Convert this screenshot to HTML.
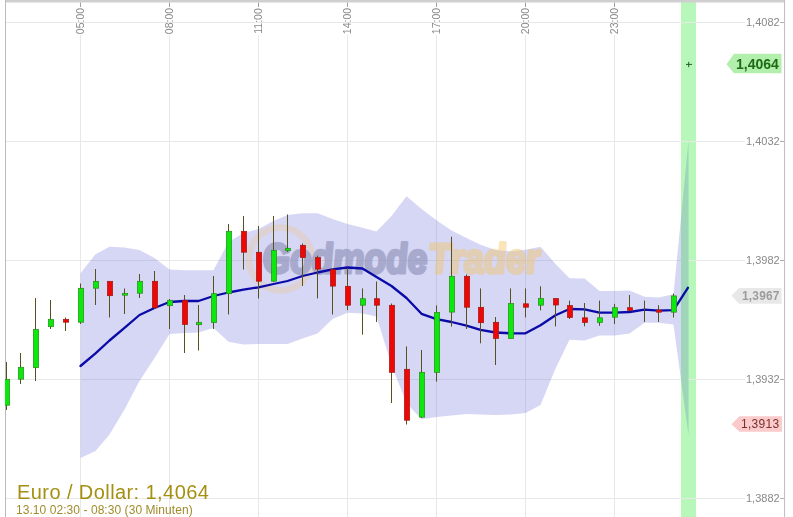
<!DOCTYPE html>
<html><head><meta charset="utf-8"><title>Euro / Dollar</title>
<style>
html,body{margin:0;padding:0;background:#fff;}
body{width:793px;height:517px;overflow:hidden;position:relative;font-family:"Liberation Sans",sans-serif;}
.ax{will-change:transform;position:absolute;right:13.2px;padding-left:1px;background:#fff;text-align:right;font-size:11px;line-height:12px;color:#888;white-space:nowrap;}
.tm{position:absolute;top:7px;width:10px;height:28px;will-change:transform;}
.tm span{position:absolute;left:50%;top:50%;transform:translate(-50%,-50%) rotate(-90deg);font-size:10.5px;line-height:10px;color:#8a8a8a;white-space:nowrap;display:block;}
.tag{will-change:transform;position:absolute;white-space:nowrap;text-align:right;}
#title{will-change:transform;position:absolute;left:17px;top:480.5px;font-size:20px;line-height:22px;color:#a58f12;white-space:nowrap;letter-spacing:0.42px;}
#sub{will-change:transform;position:absolute;left:16.3px;top:502.5px;letter-spacing:0.06px;font-size:12px;line-height:14px;color:#a08c2a;white-space:nowrap;}
</style></head><body>
<svg width="793" height="517" viewBox="0 0 793 517" style="position:absolute;left:0;top:0">
<rect x="0" y="0" width="793" height="517" fill="#fff"/>
<rect x="681" y="0" width="15" height="517" fill="#b7f7ba"/>
<rect x="6" y="22" width="778" height="1" fill="#e8e8e8"/>
<rect x="6" y="141" width="778" height="1" fill="#e8e8e8"/>
<rect x="6" y="260" width="778" height="1" fill="#e8e8e8"/>
<rect x="6" y="379" width="778" height="1" fill="#e8e8e8"/>
<rect x="6" y="498" width="778" height="1" fill="#e8e8e8"/>
<rect x="80" y="35" width="1" height="482" fill="#e8e8e8"/>
<rect x="169" y="35" width="1" height="482" fill="#e8e8e8"/>
<rect x="258" y="35" width="1" height="482" fill="#e8e8e8"/>
<rect x="347" y="35" width="1" height="482" fill="#e8e8e8"/>
<rect x="436" y="35" width="1" height="482" fill="#e8e8e8"/>
<rect x="525" y="35" width="1" height="482" fill="#e8e8e8"/>
<rect x="614" y="35" width="1" height="482" fill="#e8e8e8"/>
<rect x="5" y="0" width="780" height="2.5" fill="#cfcfcf"/>
<rect x="5" y="0" width="1" height="517" fill="#bbbbbb"/>
<rect x="784" y="0" width="1.1" height="517" fill="#c2c2c2"/>
<defs><clipPath id="cl"><rect x="0" y="0" width="681" height="517"/></clipPath><clipPath id="cr"><rect x="681" y="0" width="20" height="517"/></clipPath></defs>
<polygon clip-path="url(#cl)" points="80.5,273.2 95.5,254.3 109.5,246.7 124.5,247.5 139.5,250.0 154.5,258.0 169.5,269.4 184.5,270.2 198.5,270.2 213.5,270.2 228.5,242.0 243.5,233.0 258.5,229.0 273.5,221.0 287.5,215.0 302.5,213.2 317.5,213.2 332.5,219.0 347.5,224.0 362.5,227.8 376.5,231.6 391.5,216.0 406.5,196.3 421.5,209.0 436.5,220.3 451.5,230.4 466.5,238.0 480.5,244.7 495.5,250.0 510.5,251.4 525.5,249.7 540.5,246.8 555.5,264.0 569.5,278.3 584.5,278.6 599.5,291.0 614.5,291.0 629.5,290.5 644.5,296.8 658.5,297.6 673.5,294.3 688.5,141.0 688.5,435.0 673.5,324.6 658.5,322.8 644.5,322.8 629.5,333.4 614.5,335.4 599.5,335.4 584.5,340.5 569.5,339.7 555.5,368.5 540.5,405.0 525.5,413.0 510.5,414.5 495.5,415.0 480.5,414.5 466.5,414.0 451.5,415.5 436.5,417.0 421.5,419.3 406.5,403.0 391.5,365.0 376.5,316.5 362.5,313.5 347.5,312.7 332.5,319.0 317.5,333.4 302.5,338.5 287.5,344.0 273.5,344.0 258.5,344.0 243.5,344.5 228.5,341.7 213.5,328.0 198.5,332.5 184.5,333.0 169.5,334.0 154.5,358.0 139.5,381.0 124.5,409.5 109.5,434.6 95.5,451.0 80.5,458.0" fill="rgba(92,92,214,0.25)"/>
<polygon clip-path="url(#cr)" points="80.5,273.2 95.5,254.3 109.5,246.7 124.5,247.5 139.5,250.0 154.5,258.0 169.5,269.4 184.5,270.2 198.5,270.2 213.5,270.2 228.5,242.0 243.5,233.0 258.5,229.0 273.5,221.0 287.5,215.0 302.5,213.2 317.5,213.2 332.5,219.0 347.5,224.0 362.5,227.8 376.5,231.6 391.5,216.0 406.5,196.3 421.5,209.0 436.5,220.3 451.5,230.4 466.5,238.0 480.5,244.7 495.5,250.0 510.5,251.4 525.5,249.7 540.5,246.8 555.5,264.0 569.5,278.3 584.5,278.6 599.5,291.0 614.5,291.0 629.5,290.5 644.5,296.8 658.5,297.6 673.5,294.3 688.5,141.0 688.5,435.0 673.5,324.6 658.5,322.8 644.5,322.8 629.5,333.4 614.5,335.4 599.5,335.4 584.5,340.5 569.5,339.7 555.5,368.5 540.5,405.0 525.5,413.0 510.5,414.5 495.5,415.0 480.5,414.5 466.5,414.0 451.5,415.5 436.5,417.0 421.5,419.3 406.5,403.0 391.5,365.0 376.5,316.5 362.5,313.5 347.5,312.7 332.5,319.0 317.5,333.4 302.5,338.5 287.5,344.0 273.5,344.0 258.5,344.0 243.5,344.5 228.5,341.7 213.5,328.0 198.5,332.5 184.5,333.0 169.5,334.0 154.5,358.0 139.5,381.0 124.5,409.5 109.5,434.6 95.5,451.0 80.5,458.0" fill="#9fd6ba"/>
<g opacity="0.6">
<circle cx="280.5" cy="259" r="31.5" fill="none" stroke="#f0c88a" stroke-width="6.5" opacity="0.5"/>
<g font-family="Liberation Sans, sans-serif" font-weight="bold" font-style="italic" font-size="42">
<text transform="translate(263.5,272.6) scale(0.84,1) skewX(5)" x="0" y="0" fill="#8a8eb4" stroke="#8a8eb4" stroke-width="3.2" stroke-linejoin="round">Godmode</text>
<text transform="translate(430,272.6) scale(0.855,1) skewX(5)" opacity="0.72" x="0" y="0" fill="#f4c562" stroke="#f4c562" stroke-width="3.2" stroke-linejoin="round">Trader</text>
</g></g>
<polyline points="80.5,366.0 95.5,353.3 109.5,340.5 124.5,327.8 139.5,315.0 154.5,308.0 169.5,302.0 184.5,301.0 198.5,301.0 213.5,296.0 228.5,292.5 243.5,289.6 258.5,287.3 273.5,284.0 287.5,281.0 302.5,276.0 317.5,272.5 332.5,269.4 347.5,267.5 362.5,268.5 376.5,277.0 391.5,286.0 406.5,298.0 421.5,313.8 436.5,319.2 451.5,322.0 466.5,325.7 480.5,329.8 495.5,332.5 510.5,333.3 525.5,333.3 540.5,325.3 555.5,315.3 569.5,309.0 584.5,309.4 599.5,312.7 614.5,312.7 629.5,312.0 644.5,309.7 658.5,310.7 673.5,310.2 687.9,287.8" fill="none" stroke="#0a0aa8" stroke-width="2.3" stroke-linejoin="round" stroke-linecap="round"/>
<rect x="6" y="362.0" width="1" height="48.0" fill="#57501f"/>
<rect x="4.35" y="379.3" width="5.3" height="25.9" fill="#0be80b" stroke="#2d8a1a" stroke-width="0.7"/>
<rect x="20" y="353.0" width="1" height="31.0" fill="#57501f"/>
<rect x="18.35" y="367.3" width="5.3" height="11.9" fill="#0be80b" stroke="#2d8a1a" stroke-width="0.7"/>
<rect x="35" y="298.0" width="1" height="83.0" fill="#57501f"/>
<rect x="33.35" y="329.3" width="5.3" height="38.4" fill="#0be80b" stroke="#2d8a1a" stroke-width="0.7"/>
<rect x="50" y="300.0" width="1" height="29.0" fill="#57501f"/>
<rect x="48.35" y="319.3" width="5.3" height="7.4" fill="#0be80b" stroke="#2d8a1a" stroke-width="0.7"/>
<rect x="65" y="317.5" width="1" height="13.5" fill="#57501f"/>
<rect x="63.35" y="319.3" width="5.3" height="2.9" fill="#ee0707" stroke="#a01a10" stroke-width="0.7"/>
<rect x="80" y="283.5" width="1" height="40.5" fill="#57501f"/>
<rect x="78.35" y="288.3" width="5.3" height="33.9" fill="#0be80b" stroke="#2d8a1a" stroke-width="0.7"/>
<rect x="95" y="269.0" width="1" height="36.0" fill="#57501f"/>
<rect x="93.35" y="281.3" width="5.3" height="6.9" fill="#0be80b" stroke="#2d8a1a" stroke-width="0.7"/>
<rect x="109" y="281.0" width="1" height="36.5" fill="#57501f"/>
<rect x="107.35" y="281.3" width="5.3" height="14.4" fill="#ee0707" stroke="#a01a10" stroke-width="0.7"/>
<rect x="124" y="288.5" width="1" height="25.5" fill="#57501f"/>
<rect x="122.35" y="293.3" width="5.3" height="1.9" fill="#0be80b" stroke="#2d8a1a" stroke-width="0.7"/>
<rect x="139" y="274.0" width="1" height="24.0" fill="#57501f"/>
<rect x="137.35" y="281.3" width="5.3" height="11.9" fill="#0be80b" stroke="#2d8a1a" stroke-width="0.7"/>
<rect x="154" y="271.0" width="1" height="38.0" fill="#57501f"/>
<rect x="152.35" y="281.3" width="5.3" height="26.4" fill="#ee0707" stroke="#a01a10" stroke-width="0.7"/>
<rect x="169" y="299.0" width="1" height="30.0" fill="#57501f"/>
<rect x="167.35" y="300.3" width="5.3" height="5.4" fill="#0be80b" stroke="#2d8a1a" stroke-width="0.7"/>
<rect x="184" y="295.0" width="1" height="58.0" fill="#57501f"/>
<rect x="182.35" y="300.3" width="5.3" height="24.1" fill="#ee0707" stroke="#a01a10" stroke-width="0.7"/>
<rect x="198" y="305.0" width="1" height="45.5" fill="#57501f"/>
<rect x="196.35" y="322.3" width="5.3" height="2.4" fill="#0be80b" stroke="#2d8a1a" stroke-width="0.7"/>
<rect x="213" y="276.0" width="1" height="53.0" fill="#57501f"/>
<rect x="211.35" y="293.7" width="5.3" height="28.8" fill="#0be80b" stroke="#2d8a1a" stroke-width="0.7"/>
<rect x="228" y="224.0" width="1" height="90.5" fill="#57501f"/>
<rect x="226.35" y="231.3" width="5.3" height="62.4" fill="#0be80b" stroke="#2d8a1a" stroke-width="0.7"/>
<rect x="243" y="216.0" width="1" height="53.5" fill="#57501f"/>
<rect x="241.35" y="231.3" width="5.3" height="20.9" fill="#ee0707" stroke="#a01a10" stroke-width="0.7"/>
<rect x="258" y="226.0" width="1" height="72.5" fill="#57501f"/>
<rect x="256.35" y="252.3" width="5.3" height="28.9" fill="#ee0707" stroke="#a01a10" stroke-width="0.7"/>
<rect x="273" y="216.0" width="1" height="66.0" fill="#57501f"/>
<rect x="271.35" y="250.3" width="5.3" height="30.9" fill="#0be80b" stroke="#2d8a1a" stroke-width="0.7"/>
<rect x="287" y="214.5" width="1" height="37.5" fill="#57501f"/>
<rect x="285.35" y="248.3" width="5.3" height="2.4" fill="#0be80b" stroke="#2d8a1a" stroke-width="0.7"/>
<rect x="302" y="243.5" width="1" height="42.5" fill="#57501f"/>
<rect x="300.35" y="245.3" width="5.3" height="12.2" fill="#ee0707" stroke="#a01a10" stroke-width="0.7"/>
<rect x="317" y="255.6" width="1" height="42.8" fill="#57501f"/>
<rect x="315.35" y="257.6" width="5.3" height="11.5" fill="#ee0707" stroke="#a01a10" stroke-width="0.7"/>
<rect x="332" y="268.0" width="1" height="46.5" fill="#57501f"/>
<rect x="330.35" y="269.7" width="5.3" height="16.4" fill="#ee0707" stroke="#a01a10" stroke-width="0.7"/>
<rect x="347" y="268.0" width="1" height="42.0" fill="#57501f"/>
<rect x="345.35" y="286.3" width="5.3" height="18.9" fill="#ee0707" stroke="#a01a10" stroke-width="0.7"/>
<rect x="362" y="288.4" width="1" height="46.2" fill="#57501f"/>
<rect x="360.35" y="298.7" width="5.3" height="6.5" fill="#0be80b" stroke="#2d8a1a" stroke-width="0.7"/>
<rect x="376" y="281.5" width="1" height="40.5" fill="#57501f"/>
<rect x="374.35" y="298.7" width="5.3" height="6.5" fill="#ee0707" stroke="#a01a10" stroke-width="0.7"/>
<rect x="391" y="303.5" width="1" height="99.5" fill="#57501f"/>
<rect x="389.35" y="305.3" width="5.3" height="67.1" fill="#ee0707" stroke="#a01a10" stroke-width="0.7"/>
<rect x="406" y="346.4" width="1" height="78.1" fill="#57501f"/>
<rect x="404.35" y="369.3" width="5.3" height="50.9" fill="#ee0707" stroke="#a01a10" stroke-width="0.7"/>
<rect x="421" y="350.0" width="1" height="68.0" fill="#57501f"/>
<rect x="419.35" y="372.3" width="5.3" height="44.8" fill="#0be80b" stroke="#2d8a1a" stroke-width="0.7"/>
<rect x="436" y="305.4" width="1" height="76.2" fill="#57501f"/>
<rect x="434.35" y="312.4" width="5.3" height="60.0" fill="#0be80b" stroke="#2d8a1a" stroke-width="0.7"/>
<rect x="451" y="236.7" width="1" height="89.8" fill="#57501f"/>
<rect x="449.35" y="276.3" width="5.3" height="35.8" fill="#0be80b" stroke="#2d8a1a" stroke-width="0.7"/>
<rect x="466" y="274.5" width="1" height="54.5" fill="#57501f"/>
<rect x="464.35" y="276.3" width="5.3" height="30.9" fill="#ee0707" stroke="#a01a10" stroke-width="0.7"/>
<rect x="480" y="288.4" width="1" height="54.9" fill="#57501f"/>
<rect x="478.35" y="307.3" width="5.3" height="15.4" fill="#ee0707" stroke="#a01a10" stroke-width="0.7"/>
<rect x="495" y="317.0" width="1" height="48.0" fill="#57501f"/>
<rect x="493.35" y="322.3" width="5.3" height="16.1" fill="#ee0707" stroke="#a01a10" stroke-width="0.7"/>
<rect x="510" y="288.4" width="1" height="50.6" fill="#57501f"/>
<rect x="508.35" y="303.6" width="5.3" height="34.8" fill="#0be80b" stroke="#2d8a1a" stroke-width="0.7"/>
<rect x="525" y="288.4" width="1" height="29.0" fill="#57501f"/>
<rect x="523.35" y="303.8" width="5.3" height="3.4" fill="#ee0707" stroke="#a01a10" stroke-width="0.7"/>
<rect x="540" y="286.3" width="1" height="24.1" fill="#57501f"/>
<rect x="538.35" y="298.5" width="5.3" height="6.7" fill="#0be80b" stroke="#2d8a1a" stroke-width="0.7"/>
<rect x="555" y="298.2" width="1" height="28.2" fill="#57501f"/>
<rect x="553.35" y="298.5" width="5.3" height="6.5" fill="#ee0707" stroke="#a01a10" stroke-width="0.7"/>
<rect x="569" y="300.6" width="1" height="18.4" fill="#57501f"/>
<rect x="567.35" y="305.6" width="5.3" height="11.9" fill="#ee0707" stroke="#a01a10" stroke-width="0.7"/>
<rect x="584" y="303.0" width="1" height="23.3" fill="#57501f"/>
<rect x="582.35" y="317.8" width="5.3" height="4.7" fill="#ee0707" stroke="#a01a10" stroke-width="0.7"/>
<rect x="599" y="300.6" width="1" height="25.2" fill="#57501f"/>
<rect x="597.35" y="317.8" width="5.3" height="4.7" fill="#0be80b" stroke="#2d8a1a" stroke-width="0.7"/>
<rect x="614" y="303.9" width="1" height="20.1" fill="#57501f"/>
<rect x="612.35" y="307.7" width="5.3" height="9.5" fill="#0be80b" stroke="#2d8a1a" stroke-width="0.7"/>
<rect x="629" y="295.0" width="1" height="16.2" fill="#57501f"/>
<rect x="627.35" y="307.7" width="5.3" height="2.7" fill="#ee0707" stroke="#a01a10" stroke-width="0.7"/>
<rect x="644" y="300.6" width="1" height="21.4" fill="#57501f"/>
<rect x="658" y="305.2" width="1" height="16.8" fill="#57501f"/>
<rect x="656.35" y="310.0" width="5.3" height="2.2" fill="#ee0707" stroke="#a01a10" stroke-width="0.7"/>
<rect x="673" y="293.6" width="1" height="23.9" fill="#57501f"/>
<rect x="671.35" y="295.9" width="5.3" height="16.3" fill="#0be80b" stroke="#2d8a1a" stroke-width="0.7"/>
<rect x="0" y="0" width="5" height="517" fill="#fff"/>
<rect x="686" y="63.9" width="6" height="1" fill="#2c5a26"/><rect x="688.2" y="61.8" width="1" height="5.4" fill="#2c5a26"/>
<rect x="80" y="2.6" width="1" height="4.4" fill="#a0a0a0"/>
<rect x="169" y="2.6" width="1" height="4.4" fill="#a0a0a0"/>
<rect x="258" y="2.6" width="1" height="4.4" fill="#a0a0a0"/>
<rect x="347" y="2.6" width="1" height="4.4" fill="#a0a0a0"/>
<rect x="436" y="2.6" width="1" height="4.4" fill="#a0a0a0"/>
<rect x="525" y="2.6" width="1" height="4.4" fill="#a0a0a0"/>
<rect x="614" y="2.6" width="1" height="4.4" fill="#a0a0a0"/>
<rect x="779.5" y="22" width="5" height="1" fill="#b0b0b0"/>
<rect x="779.5" y="141" width="5" height="1" fill="#b0b0b0"/>
<rect x="779.5" y="260" width="5" height="1" fill="#b0b0b0"/>
<rect x="779.5" y="379" width="5" height="1" fill="#b0b0b0"/>
<rect x="779.5" y="498" width="5" height="1" fill="#b0b0b0"/>
<polygon points="726.5,64.3 734,53.8 781.5,53.8 781.5,73.2 734,73.2" fill="#b2efac"/>
<polygon points="731.5,295.8 739,288.1 781.5,288.1 781.5,303.7 739,303.7" fill="#e8e8e8"/>
<polygon points="731.5,424.2 739.5,416.2 782,416.2 782,431.8 739.5,431.8" fill="#fbcaca"/>
</svg>
<div class="ax" style="top:16px">1,4082</div>
<div class="ax" style="top:135px">1,4032</div>
<div class="ax" style="top:254px">1,3982</div>
<div class="ax" style="top:373px">1,3932</div>
<div class="ax" style="top:492px">1,3882</div>
<div class="tm" style="left:74.9px"><span>05:00</span></div>
<div class="tm" style="left:163.9px"><span>08:00</span></div>
<div class="tm" style="left:252.9px"><span>11:00</span></div>
<div class="tm" style="left:341.9px"><span>14:00</span></div>
<div class="tm" style="left:430.9px"><span>17:00</span></div>
<div class="tm" style="left:519.9px"><span>20:00</span></div>
<div class="tm" style="left:608.9px"><span>23:00</span></div>
<div class="tag" style="right:14px;top:55.7px;font-size:14px;line-height:17px;font-weight:bold;color:#1d6b14;">1,4064</div>
<div class="tag" style="right:13.5px;top:288.5px;font-size:12px;letter-spacing:0.15px;line-height:15px;font-weight:bold;color:#9c9c9c;">1,3967</div>
<div class="tag" style="right:13px;top:417px;font-size:12px;letter-spacing:0.3px;line-height:15px;color:#7a3030;">1,3913</div>
<div id="title">Euro / Dollar: 1,4064</div>
<div id="sub">13.10 02:30 - 08:30 (30 Minuten)</div>
</body></html>
